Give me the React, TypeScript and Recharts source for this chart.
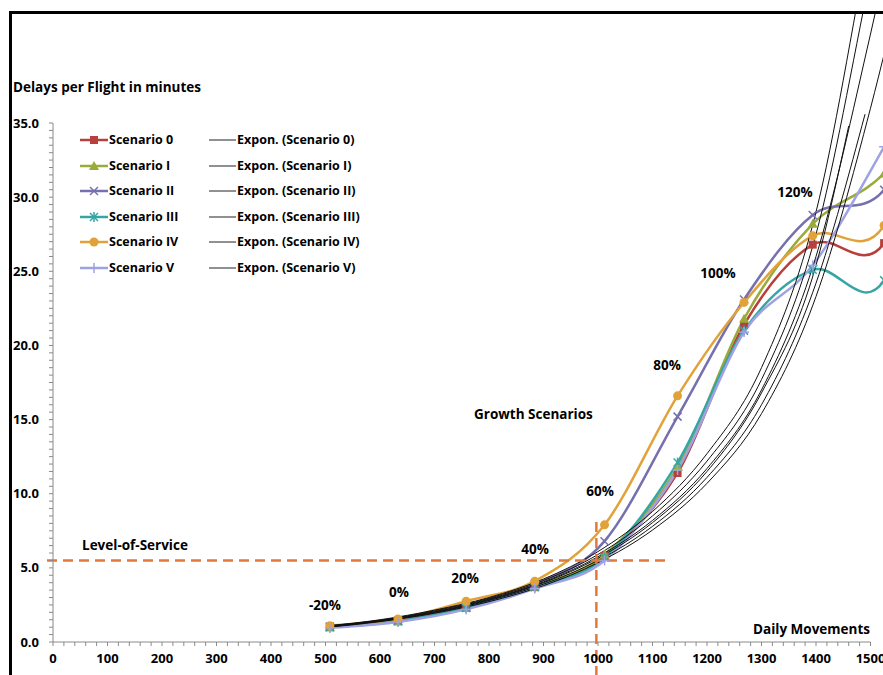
import React from "react";
import { LineChart, Line, XAxis, YAxis, ReferenceLine } from "recharts";

// daily movements for each growth step (-20% ... 160%); the last two sit past the visible frame
const stepX = [508, 633, 758, 884, 1012, 1146, 1268, 1394, 1525, 1650];
const growthLabels = ["-20%", "0%", "20%", "40%", "60%", "80%", "100%", "120%"];

const scenario0 = [1.0, 1.4, 2.3, 3.7, 5.8, 11.4, 21.4, 26.8, 26.9, 40];
const scenarioI = [1.0, 1.4, 2.3, 3.75, 5.9, 11.8, 21.8, 28.2, 31.6, 38];
const scenarioII = [1.05, 1.45, 2.4, 3.9, 6.8, 15.2, 23.1, 28.8, 30.5, 40];
const scenarioIII = [1.0, 1.4, 2.3, 3.7, 5.7, 12.1, 21.0, 25.1, 24.4, 39.5];
const scenarioIV = [1.1, 1.55, 2.75, 4.1, 7.9, 16.6, 22.9, 27.4, 28.1, 42];
const scenarioV = [0.95, 1.35, 2.2, 3.6, 5.5, 11.6, 20.9, 25.4, 33.4, 42];

// exponential trendlines
const trendX = [505, 600, 700, 800, 900, 1000, 1100, 1200, 1300, 1400, 1500, 1560];
const trendXShortA = [505, 600, 700, 800, 900, 1000, 1100, 1200, 1300, 1400, 1460];
const trendXShortB = [505, 600, 700, 800, 900, 1000, 1100, 1200, 1300, 1400, 1490];
const trend0 = [1.1, 1.5, 2.15, 3.0, 4.25, 6.1, 8.8, 12.7, 18.5, 29.0, 48, 60];
const trendI = [1.08, 1.47, 2.1, 2.95, 4.15, 5.9, 8.5, 12.2, 17.7, 27.5, 45, 56];
const trendII = [1.05, 1.44, 2.05, 2.9, 4.05, 5.75, 8.2, 11.7, 17.0, 26.0, 41, 51];
const trendIII = [1.04, 1.42, 2.02, 2.85, 4.0, 5.65, 8.05, 11.5, 16.8, 25.4, 34.8];
const trendIV = [1.02, 1.4, 1.98, 2.8, 3.9, 5.5, 7.8, 11.1, 16.0, 24.2, 35.6];
const trendV = [1.0, 1.37, 1.94, 2.72, 3.8, 5.35, 7.55, 10.7, 15.4, 23.3, 36, 45];

const xMajorTicks = [0, 100, 200, 300, 400, 500, 600, 700, 800, 900, 1000, 1100, 1200, 1300, 1400, 1500];
const yMajorTicks = [0, 5, 10, 15, 20, 25, 30, 35];

const levelOfService = 5.5;
const capacityMovements = 997;

const FONT = '"Open Sans", Lato, sans-serif';
const AXIS_GREY = "#8a8a8a";
const DASH_ORANGE = "#e07a3c";

type Shape = "square" | "triangle" | "cross" | "star" | "circle" | "plus";

const scenarios: { name: string; color: string; shape: Shape; values: number[] }[] = [
  { name: "Scenario 0", color: "#b8403c", shape: "square", values: scenario0 },
  { name: "Scenario I", color: "#9aab3c", shape: "triangle", values: scenarioI },
  { name: "Scenario II", color: "#7670ae", shape: "cross", values: scenarioII },
  { name: "Scenario III", color: "#35a6a4", shape: "star", values: scenarioIII },
  { name: "Scenario IV", color: "#e2a23a", shape: "circle", values: scenarioIV },
  { name: "Scenario V", color: "#9fa2e2", shape: "plus", values: scenarioV },
];

const trends = [
  { xs: trendX, ys: trend0 },
  { xs: trendX, ys: trendI },
  { xs: trendX, ys: trendII },
  { xs: trendXShortA, ys: trendIII },
  { xs: trendXShortB, ys: trendIV },
  { xs: trendX, ys: trendV },
];

// Excel-like smoothed line (Catmull-Rom as bezier)
const excelSmooth = (context: any) => {
  let pts: number[][] = [];
  return {
    areaStart() {},
    areaEnd() {},
    lineStart() {
      pts = [];
    },
    point(x: number, y: number) {
      pts.push([+x, +y]);
    },
    lineEnd() {
      const n = pts.length;
      if (!n) return;
      context.moveTo(pts[0][0], pts[0][1]);
      for (let i = 0; i < n - 1; i++) {
        const p0 = pts[Math.max(i - 1, 0)];
        const p1 = pts[i];
        const p2 = pts[i + 1];
        const p3 = pts[Math.min(i + 2, n - 1)];
        context.bezierCurveTo(
          p1[0] + (p2[0] - p0[0]) / 6,
          p1[1] + (p2[1] - p0[1]) / 6,
          p2[0] - (p3[0] - p1[0]) / 6,
          p2[1] - (p3[1] - p1[1]) / 6,
          p2[0],
          p2[1]
        );
      }
    },
  };
};

const Marker = ({ cx, cy, shape, color }: { cx: number; cy: number; shape: Shape; color: string }) => {
  const s = 4;
  switch (shape) {
    case "square":
      return <rect x={cx - s} y={cy - s} width={s * 2} height={s * 2} fill={color} />;
    case "triangle":
      return <polygon points={`${cx},${cy - 5} ${cx + 5},${cy + 4} ${cx - 5},${cy + 4}`} fill={color} />;
    case "circle":
      return <circle cx={cx} cy={cy} r={4.5} fill={color} />;
    case "cross":
      return (
        <g stroke={color} strokeWidth={1.5}>
          <line x1={cx - s} y1={cy - s} x2={cx + s} y2={cy + s} />
          <line x1={cx - s} y1={cy + s} x2={cx + s} y2={cy - s} />
        </g>
      );
    case "star":
      return (
        <g stroke={color} strokeWidth={1.5}>
          <line x1={cx - s} y1={cy - s} x2={cx + s} y2={cy + s} />
          <line x1={cx - s} y1={cy + s} x2={cx + s} y2={cy - s} />
          <line x1={cx} y1={cy - s - 1} x2={cx} y2={cy + s + 1} />
        </g>
      );
    default:
      return (
        <g stroke={color} strokeWidth={1.5}>
          <line x1={cx - 5} y1={cy} x2={cx + 5} y2={cy} />
          <line x1={cx} y1={cy - 5} x2={cx} y2={cy + 5} />
        </g>
      );
  }
};

const textStyle: React.CSSProperties = {
  position: "absolute",
  fontFamily: FONT,
  fontWeight: 700,
  fontSize: 13.5,
  lineHeight: "16px",
  whiteSpace: "nowrap",
  color: "#000",
};

const legendText: React.CSSProperties = { ...textStyle, fontSize: 12.5 };

// pixel positions of the free-standing labels (centre points)
const growthLabelPos = [
  [325, 605],
  [399, 592],
  [465, 578],
  [535, 549],
  [600, 491],
  [667, 365],
  [718, 273],
  [795, 192],
];

const App: React.FC = () => {
  const xTicks: number[] = [];
  for (let v = 0; v <= 1500; v += 20) xTicks.push(v);
  const yTicks: number[] = [];
  for (let v = 0; v <= 35; v += 0.5) yTicks.push(v);

  const tickStyle = { fill: "#000", fontSize: 13, fontWeight: 700, fontFamily: FONT };

  return (
    <div
      style={{
        position: "absolute",
        left: 0,
        top: 0,
        width: 883,
        height: 675,
        overflow: "hidden",
        background: "#fff",
        fontFamily: FONT,
      }}
    >
      <div
        style={{
          position: "absolute",
          left: 9,
          top: 11,
          width: 1000,
          height: 800,
          borderLeft: "3px solid #000",
          borderTop: "3px solid #000",
        }}
      />
      <div style={{ position: "absolute", left: 0, top: 13 }}>
        <LineChart width={925} height={662} margin={{ top: 0, right: 0, bottom: 0, left: 0 }}>
          <XAxis
            dataKey="x"
            type="number"
            domain={[0, 1600]}
            allowDataOverflow
            ticks={xTicks}
            interval={0}
            tickFormatter={(v: number) => (xMajorTicks.includes(v) ? String(v) : "")}
            axisLine={false}
            tickLine={{ stroke: AXIS_GREY }}
            tickSize={4}
            tickMargin={8}
            height={33}
            tick={tickStyle}
          />
          <YAxis
            type="number"
            domain={[0, 42.42]}
            allowDataOverflow
            ticks={yTicks}
            interval={0}
            tickFormatter={(v: number) => (yMajorTicks.includes(v) ? v.toFixed(1) : "")}
            axisLine={false}
            tickLine={{ stroke: AXIS_GREY }}
            tickSize={4}
            tickMargin={10}
            width={53}
            tick={tickStyle}
          />
          <ReferenceLine
            segment={[{ x: 0, y: 0 }, { x: 1500, y: 0 }]}
            stroke={AXIS_GREY}
            ifOverflow="visible"
          />
          <ReferenceLine
            segment={[{ x: 0, y: 0 }, { x: 0, y: 35 }]}
            stroke={AXIS_GREY}
            ifOverflow="visible"
          />
          {scenarios.map((s) => (
            <Line
              key={s.name}
              data={stepX.map((x, i) => ({ x, y: s.values[i] }))}
              dataKey="y"
              type={excelSmooth as any}
              stroke={s.color}
              strokeWidth={2.5}
              isAnimationActive={false}
              dot={(p: any) => (
                <Marker key={`${s.name}-${p.index}`} cx={p.cx} cy={p.cy} shape={s.shape} color={s.color} />
              )}
            />
          ))}
          {trends.map((t, k) => (
            <Line
              key={`trend-${k}`}
              data={t.xs.map((x, i) => ({ x, y: t.ys[i] }))}
              dataKey="y"
              type="monotone"
              stroke="#111"
              strokeWidth={1}
              dot={false}
              isAnimationActive={false}
            />
          ))}
          <ReferenceLine
            segment={[{ x: -11, y: levelOfService }, { x: 1129, y: levelOfService }]}
            stroke={DASH_ORANGE}
            strokeWidth={2.5}
            strokeDasharray="10 6"
            ifOverflow="visible"
          />
          <ReferenceLine
            segment={[{ x: capacityMovements, y: -2.3 }, { x: capacityMovements, y: 8.5 }]}
            stroke={DASH_ORANGE}
            strokeWidth={2.5}
            strokeDasharray="10 6"
            ifOverflow="visible"
          />
        </LineChart>
      </div>

      <div style={{ ...textStyle, left: 13, top: 79 }}>Delays per Flight in minutes</div>
      <div style={{ ...textStyle, right: 13, top: 621 }}>Daily Movements</div>
      <div style={{ ...textStyle, left: 82, top: 537 }}>Level-of-Service</div>
      <div style={{ ...textStyle, left: 474, top: 406 }}>Growth Scenarios</div>
      {growthLabels.map((g, i) => (
        <div
          key={g}
          style={{
            ...textStyle,
            left: growthLabelPos[i][0],
            top: growthLabelPos[i][1],
            transform: "translate(-50%, -50%)",
          }}
        >
          {g}
        </div>
      ))}

      {scenarios.map((s, i) => (
        <React.Fragment key={s.name}>
          <div style={{ ...legendText, left: 80, top: 132 + i * 25.6, display: "flex", alignItems: "center" }}>
            <svg width={28} height={14} style={{ marginRight: 1 }}>
              <line x1={0} y1={7} x2={28} y2={7} stroke={s.color} strokeWidth={2.5} />
              <Marker cx={14} cy={7} shape={s.shape} color={s.color} />
            </svg>
            {s.name}
          </div>
          <div style={{ ...legendText, left: 209, top: 132 + i * 25.6, display: "flex", alignItems: "center" }}>
            <svg width={27} height={14} style={{ marginRight: 1 }}>
              <line x1={0} y1={7} x2={27} y2={7} stroke="#222" strokeWidth={1} />
            </svg>
            {`Expon. (${s.name})`}
          </div>
        </React.Fragment>
      ))}
    </div>
  );
};

export default App;
